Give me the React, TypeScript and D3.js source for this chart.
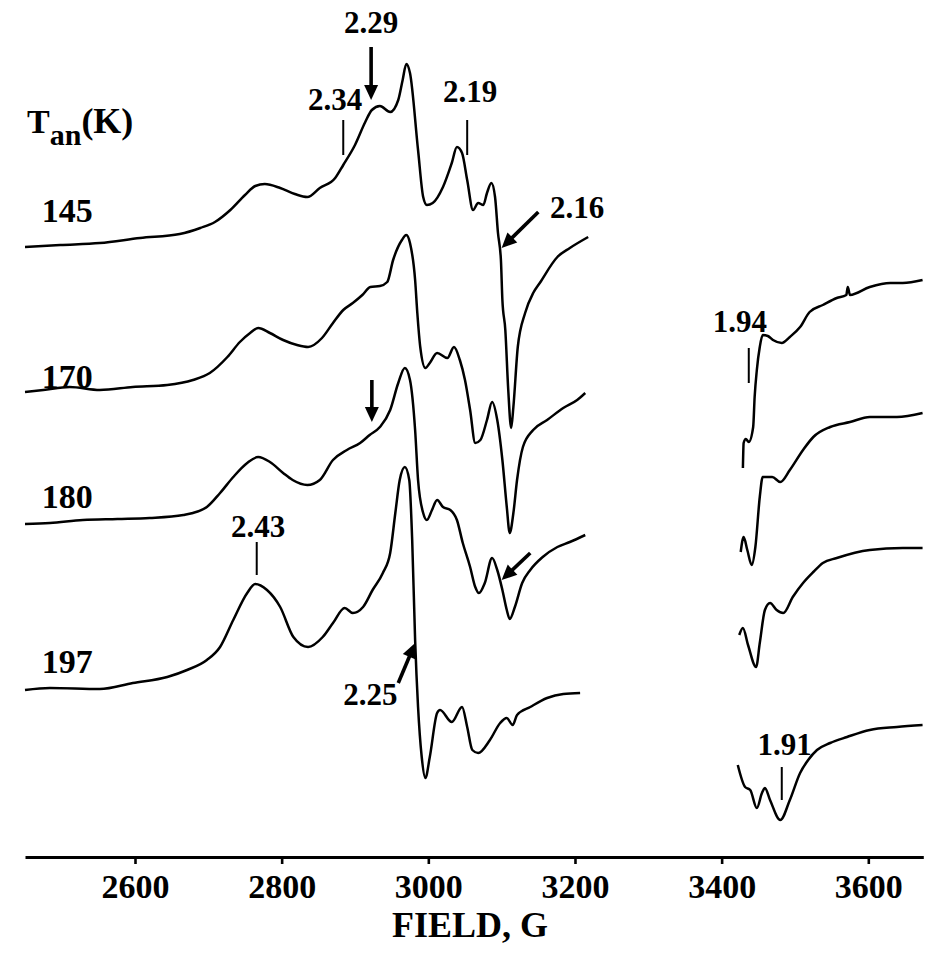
import React, { useEffect, useRef } from 'react';
import * as d3 from 'd3';

// ---------- data ----------
const FIELD_DOMAIN: [number, number] = [2450, 3675];
const INTENSITY_DOMAIN: [number, number] = [0, 830];
const FIELD_TICKS = [2600, 2800, 3000, 3200, 3400, 3600];
const X_TITLE = 'FIELD, G';

const TEMPS = ['145', '170', '180', '197'];
const OFFSETS = [610, 465, 333, 167];

// [field G, signal a.u.]
const LOW_145: [number, number][] = [
  [2450, 0], [2498, 2], [2552, 4], [2607, 9], [2661, 13], [2689, 19], [2709, 25], [2730, 37],
  [2750, 52], [2764, 61], [2777, 63], [2798, 59], [2818, 53], [2835, 50], [2852, 59], [2873, 69],
  [2884, 82], [2900, 102], [2914, 125], [2923, 137], [2934, 141], [2948, 135], [2959, 147],
  [2965, 167], [2970, 183], [2975, 174], [2986, 97], [2993, 50], [2998, 42], [3006, 44],
  [3020, 60], [3032, 84], [3039, 100], [3046, 94], [3053, 67], [3061, 37], [3068, 44], [3075, 42],
  [3080, 54], [3086, 64], [3091, 50], [3095, 14], [3099, -13], [3101, -53], [3105, -83],
  [3109, -143], [3113, -181], [3116, -160], [3122, -100], [3132, -66], [3143, -46], [3152, -36],
  [3176, -10], [3193, -1], [3218, 10],
];
const HIGH_145: [number, number][] = [
  [3429, -221], [3430, -196], [3433, -192], [3437, -195], [3443, -180], [3445, -150], [3448, -123],
  [3452, -100], [3456, -88], [3463, -89], [3470, -93], [3482, -96], [3493, -90], [3507, -80],
  [3520, -65], [3538, -58], [3557, -51], [3570, -48], [3572, -40], [3575, -48], [3602, -40],
  [3630, -36], [3647, -36], [3674, -33],
];

const LOW_170: [number, number][] = [
  [2450, 0], [2475, 2], [2511, 5], [2552, 2], [2597, 5], [2644, 7], [2679, 12], [2702, 19],
  [2726, 35], [2743, 50], [2757, 59], [2768, 64], [2784, 59], [2802, 52], [2821, 47], [2836, 45],
  [2855, 54], [2870, 69], [2884, 82], [2897, 89], [2910, 97], [2921, 105], [2934, 106],
  [2944, 110], [2952, 132], [2964, 152], [2970, 157], [2975, 149], [2982, 112], [2985, 79],
  [2989, 45], [2996, 24], [3002, 29], [3012, 39], [3026, 34], [3035, 45], [3043, 32], [3050, 12],
  [3057, -18], [3064, -51], [3071, -48], [3080, -28], [3087, -10], [3094, -28], [3101, -68],
  [3107, -115], [3111, -141], [3116, -121], [3121, -88], [3129, -55], [3143, -38], [3162, -28],
  [3184, -16], [3203, -8], [3214, -1],
];
const HIGH_170: [number, number][] = [
  [3426, -160], [3430, -145], [3435, -158], [3441, -173], [3446, -155], [3452, -105], [3456, -85],
  [3469, -85], [3480, -90], [3493, -78], [3511, -58], [3525, -45], [3548, -35], [3575, -30],
  [3602, -25], [3639, -25], [3674, -21],
];

const LOW_180: [number, number][] = [
  [2450, 0], [2484, 1], [2529, 4], [2576, 5], [2620, 6], [2666, 9], [2679, 11], [2698, 17],
  [2716, 31], [2734, 47], [2753, 61], [2768, 67], [2784, 62], [2802, 51], [2815, 44], [2835, 39],
  [2852, 44], [2870, 64], [2889, 74], [2907, 81], [2920, 89], [2934, 97], [2948, 114],
  [2959, 141], [2968, 156], [2975, 144], [2982, 94], [2986, 44], [2993, 11], [2998, 4],
  [3005, 14], [3012, 24], [3020, 17], [3030, 14], [3039, 4], [3047, -19], [3057, -43],
  [3064, -63], [3069, -69], [3077, -59], [3087, -34], [3094, -46], [3101, -66], [3107, -86],
  [3111, -95], [3118, -83], [3128, -59], [3139, -46], [3156, -33], [3176, -23], [3193, -18],
  [3214, -11],
];
const HIGH_180: [number, number][] = [
  [3424, -111], [3429, -104], [3436, -121], [3447, -143], [3452, -119], [3459, -86], [3466, -79],
  [3475, -86], [3484, -89], [3497, -73], [3511, -59], [3525, -48], [3538, -39], [3557, -34],
  [3602, -26], [3647, -24], [3674, -24],
];

const LOW_197: [number, number][] = [
  [2450, 0], [2484, 2], [2552, 1], [2597, 7], [2644, 13], [2671, 20], [2698, 30], [2716, 43],
  [2734, 70], [2753, 97], [2764, 106], [2780, 100], [2798, 83], [2816, 53], [2836, 43],
  [2856, 53], [2870, 67], [2886, 82], [2897, 77], [2911, 83], [2924, 100], [2938, 117],
  [2948, 137], [2955, 177], [2961, 210], [2968, 223], [2974, 210], [2978, 150], [2982, 50],
  [2986, -17], [2991, -67], [2996, -88], [3002, -67], [3012, -23], [3016, -20], [3032, -32],
  [3046, -17], [3053, -37], [3060, -60], [3068, -63], [3084, -50], [3098, -33], [3107, -28],
  [3115, -35], [3121, -25], [3139, -17], [3162, -8], [3184, -4], [3207, -3],
];
const HIGH_197: [number, number][] = [
  [3422, -75], [3432, -97], [3439, -100], [3448, -118], [3455, -103], [3459, -98], [3466, -110],
  [3480, -130], [3493, -110], [3507, -83], [3518, -70], [3530, -60], [3548, -53], [3571, -47],
  [3602, -40], [3639, -37], [3674, -35],
];

const SEGMENTS = [
  [LOW_145, HIGH_145],
  [LOW_170, HIGH_170],
  [LOW_180, HIGH_180],
  [LOW_197, HIGH_197],
];

// g-value marks: [label, field, v0, v1, labelField, labelV]
const G_TICKS: [string, number, number, number, number, number][] = [
  ['2.34', 2884, 702, 737, 2873, 747],
  ['2.19', 3053, 702, 737, 3057, 755],
  ['1.94', 3437, 474, 509, 3425, 525],
  ['2.43', 2766, 282, 315, 2768, 320],
  ['1.91', 3482, 57, 90, 3486, 102],
];
// arrows: [fromField, fromV, toField, toV]
const ARROWS: [number, number, number, number][] = [
  [2922, 810, 2922, 757],
  [3150, 645, 3100, 609],
  [2923, 477, 2923, 435],
  [3139, 304, 3100, 277],
  [2959, 174, 2982, 214],
];
// arrow labels: [label, field, v, anchor]
const ARROW_LABELS: [string, number, number, string][] = [
  ['2.29', 2922, 824, 'middle'],
  ['2.16', 3166, 639, 'start'],
  ['2.25', 2921, 152, 'middle'],
];
const TEMP_LABEL_FIELD = 2473;
const TEMP_LABEL_V = [635, 469, 349, 184];

// ---------- component ----------
const W = 938;
const H = 962;
const FONT = '"Liberation Serif", "Times New Roman", Times, serif';

export default function App() {
  const axisRef = useRef<SVGGElement>(null);
  const x = d3.scaleLinear().domain(FIELD_DOMAIN).range([25, 923.3]);
  const y = d3.scaleLinear().domain(INTENSITY_DOMAIN).range([857, 27]);

  useEffect(() => {
    if (!axisRef.current) return;
    const g = d3.select(axisRef.current);
    g.selectAll('*').remove();
    g.call(
      d3.axisBottom(x).tickValues(FIELD_TICKS).tickSize(7).tickSizeOuter(0).tickPadding(10)
        .tickFormat(d3.format('d')) as any
    );
    g.select('.domain').attr('stroke', '#000').attr('stroke-width', 3.2);
    g.selectAll('.tick line').attr('stroke', '#000').attr('stroke-width', 2.6);
    g.selectAll('.tick text')
      .attr('fill', '#000')
      .style('font-family', FONT)
      .style('font-weight', 'bold')
      .style('font-size', '34px');
  }, []);

  const arrowShape = (a: [number, number, number, number], i: number) => {
    const x1 = x(a[0]), y1 = y(a[1]), x2 = x(a[2]), y2 = y(a[3]);
    const dx = x2 - x1, dy = y2 - y1;
    const len = Math.hypot(dx, dy);
    const ux = dx / len, uy = dy / len;
    const L = 15, hw = 7;
    const bx = x2 - ux * L, by = y2 - uy * L;
    const pts = [
      [x2, y2],
      [bx - uy * hw, by + ux * hw],
      [bx + uy * hw, by - ux * hw],
    ];
    return (
      <g key={`ar${i}`}>
        <line x1={x1} y1={y1} x2={bx + ux * 2} y2={by + uy * 2} stroke="#000" strokeWidth={3.6} />
        <polygon points={pts.map((p) => p.join(',')).join(' ')} fill="#000" />
      </g>
    );
  };

  return (
    <svg
      width={W}
      height={H}
      style={{ position: 'absolute', left: 0, top: 0, background: '#fff' }}
      fontFamily={FONT}
    >
      <rect width={W} height={H} fill="#fff" />
      {SEGMENTS.map((segs, i) =>
        segs.map((seg, j) => {
          const line = d3
            .line<[number, number]>()
            .x((d) => x(d[0]))
            .y((d) => y(OFFSETS[i] + d[1]))
            .curve(d3.curveMonotoneX);
          return (
            <path
              key={`s${i}-${j}`}
              d={line(seg) || ''}
              fill="none"
              stroke="#000"
              strokeWidth={2.5}
              strokeLinejoin="round"
            />
          );
        })
      )}
      {G_TICKS.map((t, i) => (
        <g key={`gt${i}`}>
          <line x1={x(t[1])} x2={x(t[1])} y1={y(t[2])} y2={y(t[3])} stroke="#000" strokeWidth={2} />
          <text x={x(t[4])} y={y(t[5])} textAnchor="middle" fontWeight="bold" fontSize={31}>
            {t[0]}
          </text>
        </g>
      ))}
      {ARROWS.map(arrowShape)}
      {ARROW_LABELS.map((l, i) => (
        <text key={`al${i}`} x={x(l[1])} y={y(l[2])} textAnchor={l[3] as any} fontWeight="bold" fontSize={31}>
          {l[0]}
        </text>
      ))}
      {TEMPS.map((t, i) => (
        <text key={`tl${i}`} x={x(TEMP_LABEL_FIELD)} y={y(TEMP_LABEL_V[i])} fontWeight="bold" fontSize={34}>
          {t}
        </text>
      ))}
      <text x={27} y={133} fontWeight="bold" fontSize={34}>
        T<tspan fontSize={30} dy={12}>an</tspan>
        <tspan fontSize={36} dy={-12}>(K)</tspan>
      </text>
      <g ref={axisRef} transform={`translate(0,${y(0)})`} />
      <text x={470} y={937} textAnchor="middle" fontWeight="bold" fontSize={36}>
        {X_TITLE}
      </text>
    </svg>
  );
}
